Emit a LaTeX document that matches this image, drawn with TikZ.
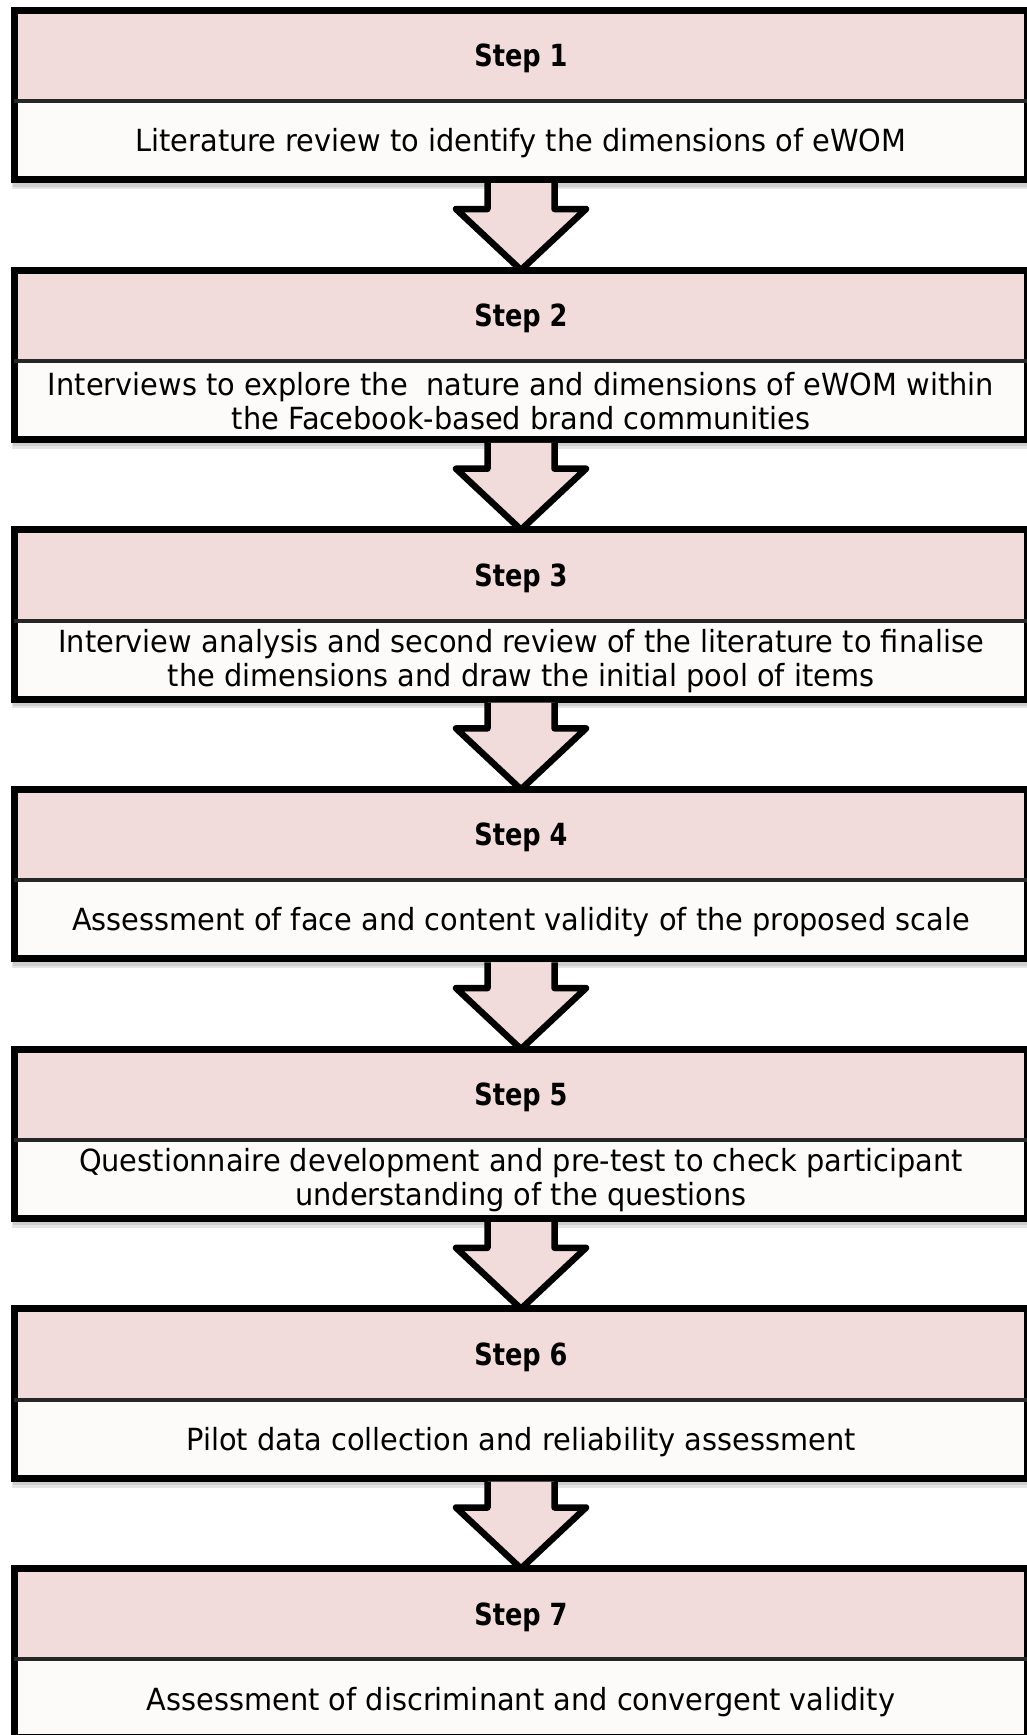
\documentclass[tikz,border=0pt]{standalone}
\usepackage{fontspec}
\setmainfont{DejaVu Sans}[FakeStretch=0.945]
\newfontfamily\stepfont{DejaVu Sans}[FakeStretch=0.84]
\usetikzlibrary{calc}
\definecolor{headpink}{RGB}{242,220,219}
\definecolor{bodywhite}{RGB}{253,250,250}
\newcommand{\sstrut}{\rule{0pt}{29.5pt}}
\newcommand{\mstrut}{\rule{0pt}{26pt}}
\tikzset{
  headbox/.style={rectangle, fill=headpink, minimum width=1013pt, minimum height=90.5pt, inner sep=0pt,
    font=\stepfont\bfseries\fontsize{30.5}{34}\selectfont},
  bodybox/.style={rectangle, fill=bodywhite, minimum width=1013pt, minimum height=78.5pt, inner sep=0pt,
    align=center, font=\fontsize{30.5}{34}\selectfont},
  frameline/.style={draw=black, line width=7pt},
  divider/.style={draw=black!85, line width=4pt},
  boxshadow/.style={fill=black, opacity=0.10},
  blockarrow/.style={draw=black, fill=headpink, line width=6.5pt, line join=round}
}
\begin{document}
\begin{tikzpicture}[x=1pt,y=-1pt]
\useasboundingbox (0,0) rectangle (1027,1735);
\foreach \i/\txt in {
  1/{\sstrut Literature review to identify the dimensions of eWOM},
  2/{\mstrut Interviews to explore the~ nature and dimensions of eWOM within\\the Facebook-based brand communities},
  3/{\mstrut Interview analysis and second review of the literature to finalise\\the dimensions and draw the initial pool of items},
  4/{\sstrut Assessment of face and content validity of the proposed scale},
  5/{\mstrut Questionnaire development and pre-test to check participant\\understanding of the questions},
  6/{\sstrut Pilot data collection and reliability assessment},
  7/{\sstrut Assessment of discriminant and convergent validity}}{
  \pgfmathsetmacro{\T}{7+259.7*(\i-1)}
  \fill[boxshadow] (12,\T+3) rectangle (1031,\T+182);
  \fill[boxshadow] (13,\T+4) rectangle (1031,\T+179.5);
  \node[headbox] (h\i) at (521,\T+48.75) {\rule{0pt}{28.5pt}Step \i};
  \node[bodybox] (b\i) at (521,\T+133.25) {\txt};
  \draw[frameline] (h\i.north west) rectangle (b\i.south east);
  \draw[divider] (h\i.south west) -- (h\i.south east);
}
\foreach \i in {1,...,6}{
  \pgfmathtruncatemacro{\j}{\i+1}
  \draw[blockarrow] ($(b\i.south)+(-33.5,3.5)$) |- ($(h\j.north)+(-65,-61)$) -- (h\j.north)
     -- ($(h\j.north)+(65,-61)$) -| ($(b\i.south)+(33.5,3.5)$);
}
\end{tikzpicture}
\end{document}
